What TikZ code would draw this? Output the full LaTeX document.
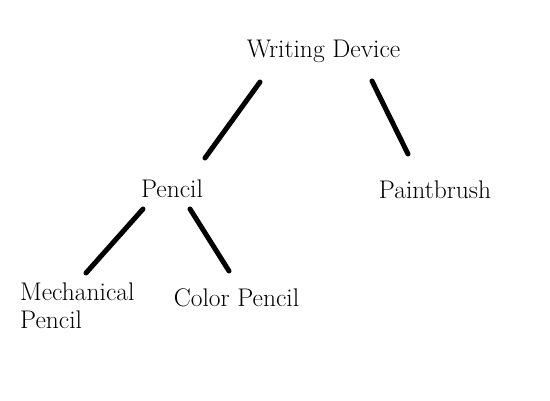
\documentclass[tikz,border=0pt]{standalone}
\begin{document}
\begin{tikzpicture}[x=1pt,y=-1pt,
  lbl/.style={inner sep=0pt,anchor=base,font=\fontsize{25.5}{28}\selectfont},
  conn/.style={line width=5pt,line cap=round,black}]
\useasboundingbox (0,0) rectangle (550,400);
\node[lbl] (wd) at (323.5,57) {Writing Device};
\node[lbl] (pencil) at (172,197) {Pencil};
\node[lbl] (paint) at (435,198) {Paintbrush};
\node[lbl,anchor=base west,align=left] (mech) at (20,328) {Mechanical\\Pencil};
\node[lbl] (color) at (236.5,306.5) {Color Pencil};
\coordinate (a1) at (260,82);  \coordinate (a2) at (205,158);
\coordinate (b1) at (372,81);  \coordinate (b2) at (408,154);
\coordinate (c1) at (143,209); \coordinate (c2) at (86,273);
\coordinate (d1) at (190,209); \coordinate (d2) at (229,271);
\draw[conn] (a1) -- (a2);
\draw[conn] (b1) -- (b2);
\draw[conn] (c1) -- (c2);
\draw[conn] (d1) -- (d2);
\end{tikzpicture}
\end{document}
